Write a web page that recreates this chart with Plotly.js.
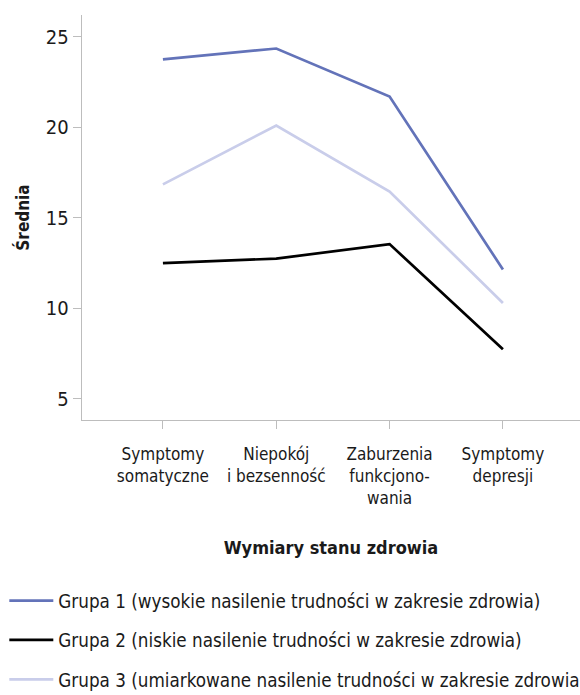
<!DOCTYPE html>
<html>
<head>
<meta charset="utf-8">
<script src="https://cdn.plot.ly/plotly-3.0.1.min.js"></script>
<style>html,body{margin:0;padding:0;background:#fff;}#chart{width:580px;height:695px;}</style>
</head>
<body>
<div id="chart"></div>
<script>
const categories = ["Symptomy<br>somatyczne", "Niepokój<br>i bezsenność", "Zaburzenia<br>funkcjono-<br>wania", "Symptomy<br>depresji"];
const grupa1 = [23.75, 24.35, 21.7, 12.15];
const grupa2 = [12.5, 12.75, 13.55, 7.75];
const grupa3 = [16.85, 20.1, 16.45, 10.3];
const names = [
  "Grupa 1 (wysokie nasilenie trudności w zakresie zdrowia)",
  "Grupa 2 (niskie nasilenie trudności w zakresie zdrowia)",
  "Grupa 3 (umiarkowane nasilenie trudności w zakresie zdrowia)"
];
const colors = ["#6373b9", "#000000", "#c9cdea"];
const FONT = '"DejaVu Sans Condensed", "Liberation Sans Narrow", sans-serif';
const xi = [0, 1, 2, 3];
const series = [grupa1, grupa2, grupa3];
const traces = series.map((s, i) => ({
  type: 'scatter', mode: 'lines', x: xi, y: s, name: names[i],
  legendgroup: 'g' + i,
  line: {color: colors[i], width: 2.7}
}));
const layout = {
  width: 580, height: 695,
  margin: {l: 82, r: 0, t: 15, b: 275, autoexpand: false},
  paper_bgcolor: '#fff', plot_bgcolor: '#fff',
  font: {family: FONT, color: '#1a1a1a', size: 17},
  showlegend: true,
  legend: {
    orientation: 'v', x: -0.156, xanchor: 'left', y: -0.400, yanchor: 'top',
    font: {size: 18.7, family: FONT, color: '#1a1a1a'},
    traceorder: 'grouped', tracegroupgap: 12, itemwidth: 44
  },
  xaxis: {
    range: [-0.714, 3.68],
    tickmode: 'array', tickvals: xi, ticktext: categories,
    showline: true, linecolor: '#bdbdbd', linewidth: 1.3,
    ticks: 'outside', ticklen: 8, tickcolor: '#bdbdbd', tickwidth: 1,
    ticklabelstandoff: 10,
    showgrid: false, zeroline: false,
    tickfont: {size: 17, family: FONT},
    title: {text: '<b>Wymiary stanu zdrowia</b>', font: {size: 18, family: FONT}, standoff: 34}
  },
  yaxis: {
    range: [3.84, 26.2],
    tickvals: [5, 10, 15, 20, 25],
    showline: true, linecolor: '#bdbdbd', linewidth: 1.3,
    ticks: 'outside', ticklen: 8, tickcolor: '#bdbdbd', tickwidth: 1,
    showgrid: false, zeroline: false,
    tickfont: {size: 20, family: FONT},
    title: {text: '<b>Średnia</b>', font: {size: 17, family: FONT}, standoff: 12}
  }
};
Plotly.newPlot('chart', traces, layout, {displayModeBar: false, staticPlot: true});
</script>
</body>
</html>
